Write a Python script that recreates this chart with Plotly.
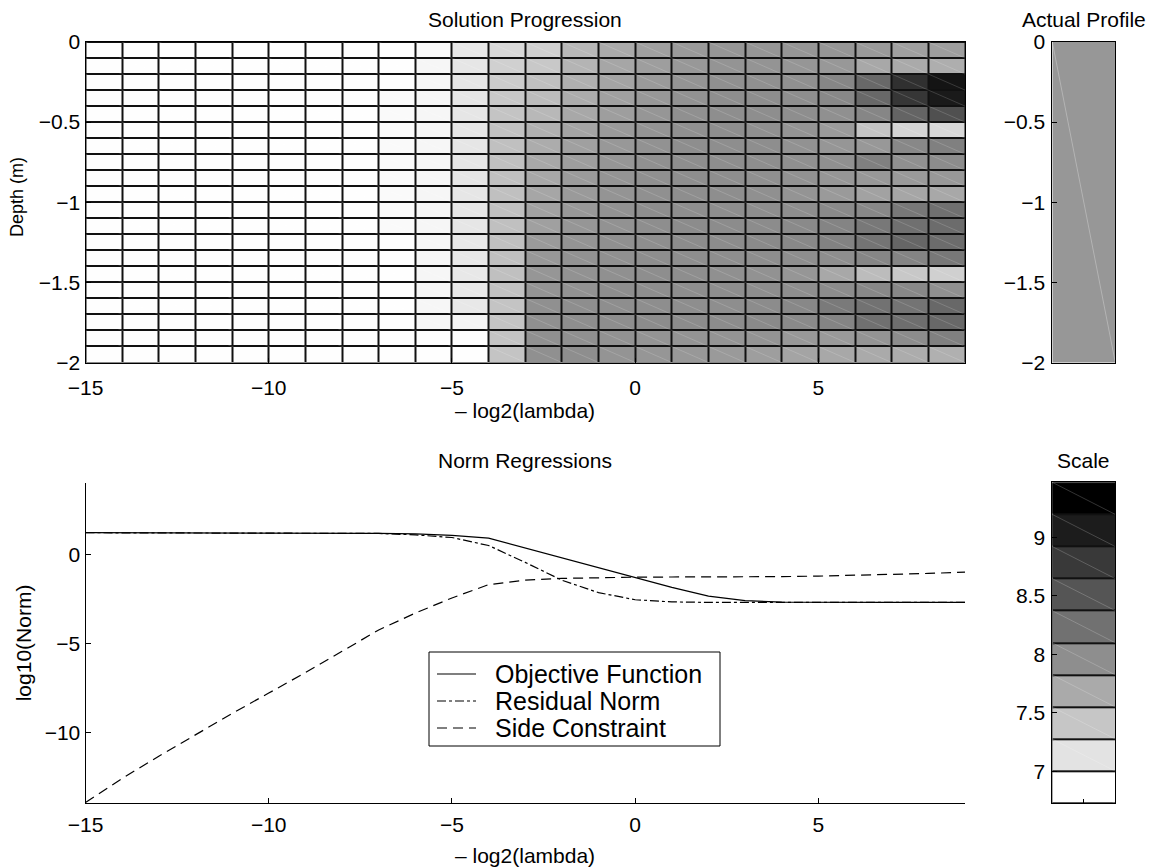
import plotly.graph_objects as go

W, H = 1157, 868

# ---------------- data ----------------
lam_edges = list(range(-15, 10))          # -log2(lambda) column edges
depth_edges = [0, -0.1, -0.2, -0.3, -0.4, -0.5, -0.6, -0.7, -0.8, -0.9, -1.0,
               -1.1, -1.2, -1.3, -1.4, -1.5, -1.6, -1.7, -1.8, -1.9, -2.0]

# solution progression (rows: depth top->bottom, cols: -15 .. 8)
sol = [
 [6.73]*8 + [6.73, 6.77, 6.95, 7.10, 7.18, 7.41, 7.55, 7.65, 7.70, 7.74, 7.74, 7.74, 7.74, 7.70, 7.65, 7.67],
 [6.73]*8 + [6.73, 6.81, 6.97, 7.18, 7.26, 7.45, 7.59, 7.67, 7.72, 7.76, 7.76, 7.74, 7.72, 7.57, 7.55, 7.51],
 [6.73]*8 + [6.73, 6.81, 6.97, 7.22, 7.34, 7.49, 7.61, 7.70, 7.76, 7.80, 7.80, 7.80, 7.90, 8.19, 8.73, 9.00],
 [6.73]*8 + [6.77, 6.81, 6.97, 7.26, 7.37, 7.53, 7.65, 7.72, 7.78, 7.82, 7.82, 7.82, 7.88, 8.19, 8.67, 8.95],
 [6.73]*8 + [6.77, 6.81, 6.97, 7.30, 7.41, 7.57, 7.67, 7.74, 7.80, 7.82, 7.82, 7.82, 7.80, 7.90, 8.23, 8.42],
 [6.73]*8 + [6.77, 6.81, 6.97, 7.32, 7.49, 7.61, 7.70, 7.76, 7.80, 7.82, 7.80, 7.76, 7.69, 7.30, 7.14, 7.10],
 [6.73]*8 + [6.77, 6.81, 6.97, 7.34, 7.53, 7.65, 7.72, 7.78, 7.82, 7.82, 7.82, 7.78, 7.74, 7.72, 7.88, 7.96],
 [6.73]*8 + [6.77, 6.81, 6.97, 7.34, 7.57, 7.67, 7.74, 7.80, 7.82, 7.82, 7.82, 7.80, 7.80, 7.96, 7.80, 7.84],
 [6.73]*8 + [6.77, 6.81, 6.97, 7.34, 7.57, 7.69, 7.76, 7.80, 7.82, 7.82, 7.80, 7.78, 7.74, 7.72, 7.70, 7.72],
 [6.73]*8 + [6.77, 6.81, 6.97, 7.34, 7.59, 7.70, 7.76, 7.80, 7.82, 7.82, 7.80, 7.76, 7.70, 7.63, 7.59, 7.57],
 [6.73]*8 + [6.77, 6.81, 6.97, 7.34, 7.63, 7.72, 7.78, 7.82, 7.82, 7.82, 7.82, 7.82, 7.86, 7.88, 8.03, 8.11],
 [6.73]*8 + [6.77, 6.81, 6.97, 7.34, 7.65, 7.74, 7.78, 7.82, 7.84, 7.84, 7.84, 7.86, 7.92, 8.03, 8.11, 8.15],
 [6.73]*8 + [6.73, 6.81, 6.95, 7.34, 7.70, 7.76, 7.80, 7.82, 7.84, 7.84, 7.86, 7.88, 7.94, 8.07, 8.21, 8.15],
 [6.73]*8 + [6.73, 6.81, 6.95, 7.34, 7.72, 7.78, 7.80, 7.82, 7.82, 7.82, 7.82, 7.82, 7.82, 7.90, 7.92, 8.03],
 [6.73]*8 + [6.73, 6.81, 6.95, 7.34, 7.74, 7.78, 7.80, 7.82, 7.82, 7.80, 7.78, 7.74, 7.57, 7.37, 7.26, 7.18],
 [6.73]*8 + [6.73, 6.81, 6.95, 7.32, 7.76, 7.78, 7.82, 7.82, 7.82, 7.82, 7.82, 7.82, 7.84, 7.88, 7.88, 7.80],
 [6.73]*8 + [6.73, 6.81, 6.95, 7.30, 7.80, 7.82, 7.82, 7.82, 7.82, 7.82, 7.84, 7.88, 8.01, 8.09, 8.07, 8.19],
 [6.73]*8 + [6.73, 6.81, 6.83, 7.30, 7.80, 7.82, 7.82, 7.84, 7.84, 7.84, 7.86, 7.86, 7.92, 8.11, 8.13, 8.19],
 [6.73]*8 + [6.73, 6.73, 6.73, 7.30, 7.80, 7.80, 7.78, 7.76, 7.76, 7.76, 7.76, 7.72, 7.70, 7.76, 7.84, 7.96],
 [6.73]*8 + [6.73, 6.73, 6.73, 7.30, 7.80, 7.82, 7.76, 7.74, 7.72, 7.70, 7.67, 7.61, 7.57, 7.55, 7.53, 7.49],
]

actual_profile = [[7.73]]

scale_edges = [6.725, 7.0, 7.275, 7.549, 7.824, 8.099, 8.374, 8.648, 8.923, 9.198, 9.473]
scale_vals = [6.725, 7.0, 7.275, 7.549, 7.824, 8.099, 8.374, 8.648, 8.923, 9.198]
cmin, cmax = 6.725, 9.198

lam = list(range(-15, 10))
objective = [1.22, 1.22, 1.22, 1.22, 1.22, 1.22, 1.21, 1.20, 1.18, 1.15, 1.07, 0.92,
             0.37, -0.18, -0.73, -1.28, -1.85, -2.35, -2.60, -2.68, -2.70, -2.70, -2.70, -2.70, -2.70]
residual = [1.22, 1.22, 1.22, 1.22, 1.22, 1.22, 1.21, 1.20, 1.18, 1.10, 0.95, 0.50,
            -0.45, -1.45, -2.15, -2.55, -2.67, -2.70, -2.70, -2.70, -2.70, -2.70, -2.70, -2.70, -2.70]
side = [-13.95, -12.6, -11.35, -10.15, -8.95, -7.8, -6.65, -5.45, -4.25, -3.3, -2.45, -1.7,
        -1.45, -1.35, -1.30, -1.28, -1.27, -1.27, -1.26, -1.25, -1.22, -1.18, -1.13, -1.07, -1.00]

series_names = ["Objective Function", "Residual Norm", "Side Constraint"]
series_dash = ["solid", "dashdot", "10px,6px"]

# ---------------- layout helpers ----------------
FONT = "Liberation Sans, Arial, Helvetica, sans-serif"
def px_x(p):
    return p / W
def px_y(p):
    return 1 - p / H

XL, XR = 85.5, 965.0
XS0, XS1 = 1052.3, 1115.3
TOP0, TOP1 = 42.0, 362.5
BOT0, BOT1 = 483.3, 803.3
SC0, SC1 = 482.3, 803.3

gray = [[0, "#ffffff"], [1, "#000000"]]

fig = go.Figure()

fig.add_trace(go.Heatmap(z=sol, x=lam_edges, y=depth_edges, colorscale=gray,
                         zmin=cmin, zmax=cmax, showscale=False, xgap=2, ygap=2,
                         xaxis="x", yaxis="y", hoverinfo="skip"))
fig.add_trace(go.Heatmap(z=actual_profile, x=[0, 1], y=[-2, 0], colorscale=gray,
                         zmin=cmin, zmax=cmax, showscale=False,
                         xaxis="x2", yaxis="y2", hoverinfo="skip"))
fig.add_trace(go.Heatmap(z=[[v] for v in scale_vals], x=[0, 1], y=scale_edges,
                         colorscale=gray, zmin=cmin, zmax=cmax, showscale=False,
                         ygap=2, xaxis="x4", yaxis="y4", hoverinfo="skip"))

# faint triangulation diagonals inside each patch (as in the original rendering)
def diagonals(xe, ye):
    xs, ys = [], []
    for i in range(len(ye) - 1):
        for j in range(len(xe) - 1):
            top, bot = max(ye[i], ye[i + 1]), min(ye[i], ye[i + 1])
            xs += [xe[j], xe[j + 1], None]
            ys += [top, bot, None]
    return xs, ys

for xe, ye, xa, ya, col in [(lam_edges, depth_edges, "x", "y", "rgba(255,255,255,0.16)"),
                            ([0, 1], [-2, 0], "x2", "y2", "rgba(255,255,255,0.28)"),
                            ([0, 1], scale_edges, "x4", "y4", "rgba(255,255,255,0.2)")]:
    dx, dy = diagonals(xe, ye)
    fig.add_trace(go.Scatter(x=dx, y=dy, mode="lines", line=dict(color=col, width=1),
                             xaxis=xa, yaxis=ya, hoverinfo="skip", showlegend=False))

for name, vals, dash in zip(series_names, [objective, residual, side], series_dash):
    fig.add_trace(go.Scatter(x=lam, y=vals, mode="lines", name=name,
                             line=dict(color="black", width=1.2, dash=dash),
                             xaxis="x3", yaxis="y3", showlegend=False))

tickfont = dict(family=FONT, size=21, color="black")
common = dict(ticks="inside", ticklen=5, tickcolor="black", tickwidth=1,
              linecolor="black", linewidth=1, showgrid=False, zeroline=False,
              tickfont=tickfont, automargin=False)

fig.update_layout(
    width=W, height=H, margin=dict(l=0, r=0, t=0, b=0, autoexpand=False),
    paper_bgcolor="white", plot_bgcolor="white",
    font=dict(family=FONT, color="black"),
    xaxis=dict(domain=[px_x(XL), px_x(XR)], anchor="y", range=[-15, 9],
               tickvals=[-15, -10, -5, 0, 5], showline=True, mirror=True,
               ticklabelstandoff=6, **common),
    yaxis=dict(domain=[px_y(TOP1), px_y(TOP0)], anchor="x", range=[-2, 0],
               tickvals=[0, -0.5, -1, -1.5, -2], showline=True, mirror=True, **common),
    xaxis2=dict(domain=[px_x(XS0), px_x(XS1)], anchor="y2", range=[0, 1],
                showticklabels=False, ticks="", showline=True, mirror=True,
                linecolor="black", showgrid=False, zeroline=False, automargin=False),
    yaxis2=dict(domain=[px_y(TOP1), px_y(TOP0)], anchor="x2", range=[-2, 0],
                tickvals=[0, -0.5, -1, -1.5, -2], showline=True, mirror=True,
                ticklabelstandoff=2, **common),
    xaxis3=dict(domain=[px_x(XL), px_x(XR)], anchor="y3", range=[-15, 9],
                tickvals=[-15, -10, -5, 0, 5], showline=True, mirror=False,
                ticklabelstandoff=2, **common),
    yaxis3=dict(domain=[px_y(BOT1), px_y(BOT0)], anchor="x3", range=[-14, 4],
                tickvals=[0, -5, -10], showline=True, mirror=False, **common),
    xaxis4=dict(domain=[px_x(XS0), px_x(XS1)], anchor="y4", range=[0, 1],
                tickvals=[0.5], showticklabels=False, showline=True, mirror=True,
                ticks="inside", ticklen=4, tickcolor="black",
                linecolor="black", showgrid=False, zeroline=False, automargin=False),
    yaxis4=dict(domain=[px_y(SC1), px_y(SC0)], anchor="x4", range=[scale_edges[0], scale_edges[-1]],
                tickvals=[7, 7.5, 8, 8.5, 9], showline=True, mirror=True,
                ticklabelstandoff=2, **common),
    showlegend=False,
)

# black backdrop behind gridded heatmaps (cell edges)
for xr, yr in [("x domain", "y domain"), ("x4 domain", "y4 domain")]:
    fig.add_shape(type="rect", xref=xr, yref=yr, x0=0, x1=1, y0=0, y1=1,
                  fillcolor="#111111", line=dict(width=0), layer="below")

def ann(text, x, y, angle=0, size=21, xanchor="center"):
    fig.add_annotation(text=text, x=px_x(x), y=px_y(y), xref="paper", yref="paper",
                       showarrow=False, textangle=angle, xanchor=xanchor, yanchor="middle",
                       font=dict(family=FONT, size=size, color="black"))

ann("Solution Progression", (XL + XR) / 2, 19)
ann("Actual Profile", (XS0 + XS1) / 2, 19)
ann("Norm Regressions", (XL + XR) / 2, 460)
ann("Scale", (XS0 + XS1) / 2, 460)
ann("\u2013 log2(lambda)", (XL + XR) / 2, 410)
ann("\u2013 log2(lambda)", (XL + XR) / 2, 855)
ann("Depth (m)", 17, 197, angle=-90, size=18)
ann("log10(Norm)", 23, (BOT0 + BOT1) / 2, angle=-90)

# legend drawn as a framed box with samples and real text
LG_X0, LG_X1, LG_Y0, LG_Y1 = 429, 720, 652, 746
fig.add_shape(type="rect", xref="paper", yref="paper",
              x0=px_x(LG_X0), x1=px_x(LG_X1), y0=px_y(LG_Y1), y1=px_y(LG_Y0),
              line=dict(color="black", width=1), fillcolor="white", layer="above")
for i, (name, dash) in enumerate(zip(series_names, series_dash)):
    yy = 674 + 27 * i
    fig.add_shape(type="line", xref="paper", yref="paper",
                  x0=px_x(437), x1=px_x(476), y0=px_y(yy), y1=px_y(yy),
                  line=dict(color="black", width=1.2, dash=dash), layer="above")
    ann(name, 493, yy, size=25, xanchor="left")

fig.write_html("out.html")
